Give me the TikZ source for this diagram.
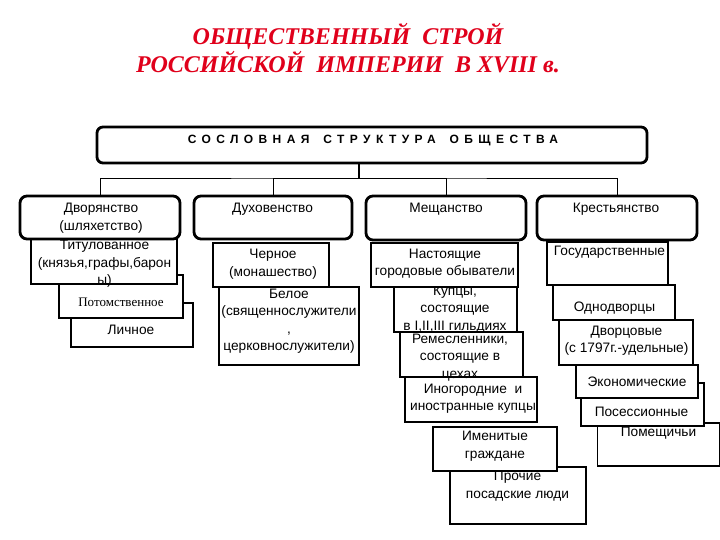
\documentclass[tikz,border=0pt]{standalone}
\usepackage{fontspec}
\setmainfont{Liberation Sans}
\newfontfamily\titlefont{Liberation Serif}
\newfontfamily\serifru{Liberation Serif}
\usetikzlibrary{positioning}
\definecolor{titlered}{HTML}{E0001B}

\begin{document}
\begin{tikzpicture}[x=1pt,y=-1pt,
  font=\fontsize{13.7}{17.5}\selectfont,
  head/.style={draw=black,line width=2.8pt,rounded corners=6pt,fill=white,inner sep=0pt},
  estate/.style={draw=black,line width=2.8pt,rounded corners=7pt,fill=white,inner sep=0pt},
  sub/.style={draw=black,line width=1.6pt,fill=white,inner sep=0pt},
  txt/.style={inner sep=0pt,align=center},
  link/.style={draw=black,line width=0.9pt},
  stem/.style={draw=black,line width=2pt},
]
\fill[white] (0,0) rectangle (720,540);
\useasboundingbox (0,0) rectangle (720,540);

% title
\node[txt,text=titlered,font=\titlefont\bfseries\itshape\fontsize{24}{26}\selectfont] (title) at (348,48)
  {ОБЩЕСТВЕННЫЙ\ \ СТРОЙ\\РОССИЙСКОЙ\ \ ИМПЕРИИ\ \ В XVIII в.};

% root
\node[head,minimum width=550pt,minimum height=36pt] (root) at (372,145) {};
\node[txt,font=\bfseries\addfontfeature{LetterSpace=45}\fontsize{12}{14}\selectfont] (root-t) at (373,141)
  {СОСЛОВНАЯ\hspace{14pt}СТРУКТУРА\hspace{14pt}ОБЩЕСТВА};

\coordinate (hub) at (359,178);

% nobility
\node[sub,minimum width=122pt,minimum height=44pt] (lich) at (132,325) {};
\node[txt] (lich-t) at (131,330) {Личное};
\node[sub,minimum width=124pt,minimum height=43pt] (potom) at (121,296.5) {};
\node[txt,font=\serifru\fontsize{13}{15}\selectfont] (potom-t) at (121,302) {Потомственное};
\node[sub,minimum width=146pt,minimum height=48pt] (titul) at (104,260) {};
\node[txt] (titul-t) at (104.5,264) {Титулованное\\(князья,графы,барон\\ы)};
\node[estate,minimum width=160pt,minimum height=43pt] (dvor) at (100,217.5) {};
\node[txt] (dvor-t) at (101,218) {Дворянство\\(шляхетство)};

% clergy
\node[sub,minimum width=140pt,minimum height=78pt] (bel) at (289,326) {};
\node[txt] (bel-t) at (289,321) {Белое\\(священнослужители\\,\\церковнослужители)};
\node[sub,minimum width=116pt,minimum height=44pt] (cher) at (271,265) {};
\node[txt] (cher-t) at (273,264) {Черное\\(монашество)};
\node[estate,minimum width=158pt,minimum height=43pt] (duh) at (273,217.5) {};
\node[txt] (duh-t) at (272.5,209) {Духовенство};

% townspeople
\node[sub,minimum width=136pt,minimum height=57pt] (proch) at (518,495.5) {};
\node[txt] (proch-t) at (517.5,486) {Прочие\\посадские люди};
\node[sub,minimum width=124pt,minimum height=44pt] (imen) at (495,449) {};
\node[txt] (imen-t) at (495,446) {Именитые\\граждане};
\node[sub,minimum width=132pt,minimum height=45pt] (inog) at (471,399.5) {};
\node[txt] (inog-t) at (473,398.5) {Иногородние\ \ и\\иностранные купцы};
\node[sub,minimum width=123pt,minimum height=45pt] (rem) at (461.5,354.5) {};
\node[txt] (rem-t) at (460,357.5) {Ремесленники,\\состоящие в\\цехах};
\node[sub,minimum width=123pt,minimum height=45pt] (kup) at (455.5,309.5) {};
\node[txt] (kup-t) at (455,309.5) {Купцы,\\состоящие\\в I,II,III гильдиях};
\node[sub,minimum width=147pt,minimum height=44pt] (nast) at (444.5,265) {};
\node[txt] (nast-t) at (445,263.5) {Настоящие\\городовые обыватели};
\node[estate,minimum width=160pt,minimum height=44pt] (mesh) at (446,218) {};
\node[txt] (mesh-t) at (446,209) {Мещанство};

% peasants
\node[sub,minimum width=122pt,minimum height=43pt] (pomesh) at (658.5,444.5) {};
\node[txt] (pomesh-t) at (658.5,433.5) {Помещичьи};
\node[sub,minimum width=123pt,minimum height=43pt] (poses) at (642.5,404.5) {};
\node[txt] (poses-t) at (641.5,411.5) {Посессионные};
\node[sub,minimum width=122pt,minimum height=33pt] (ekon) at (637,381.5) {};
\node[txt] (ekon-t) at (637,382) {Экономические};
\node[sub,minimum width=134pt,minimum height=45pt] (dvorc) at (626,342.5) {};
\node[txt] (dvorc-t) at (626.5,340.5) {Дворцовые\\(с 1797г.-удельные)};
\node[sub,minimum width=122pt,minimum height=35pt] (odno) at (614,302.5) {};
\node[txt] (odno-t) at (614.5,308) {Однодворцы};
\node[sub,minimum width=121pt,minimum height=43pt] (gos) at (607.5,263.5) {};
\node[txt] (gos-t) at (609.5,252) {Государственные};
\node[estate,minimum width=160pt,minimum height=44pt] (kres) at (617,218) {};
\node[txt] (kres-t) at (616,209) {Крестьянство};

% tree lines
\draw[stem] (root.south -| hub) -- (hub);
\draw[link] (dvor.north) |- (hub) -| (kres.north);
\draw[link] (duh.north) |- (hub);
\draw[link] (mesh.north) |- (hub);
\end{tikzpicture}
\end{document}
